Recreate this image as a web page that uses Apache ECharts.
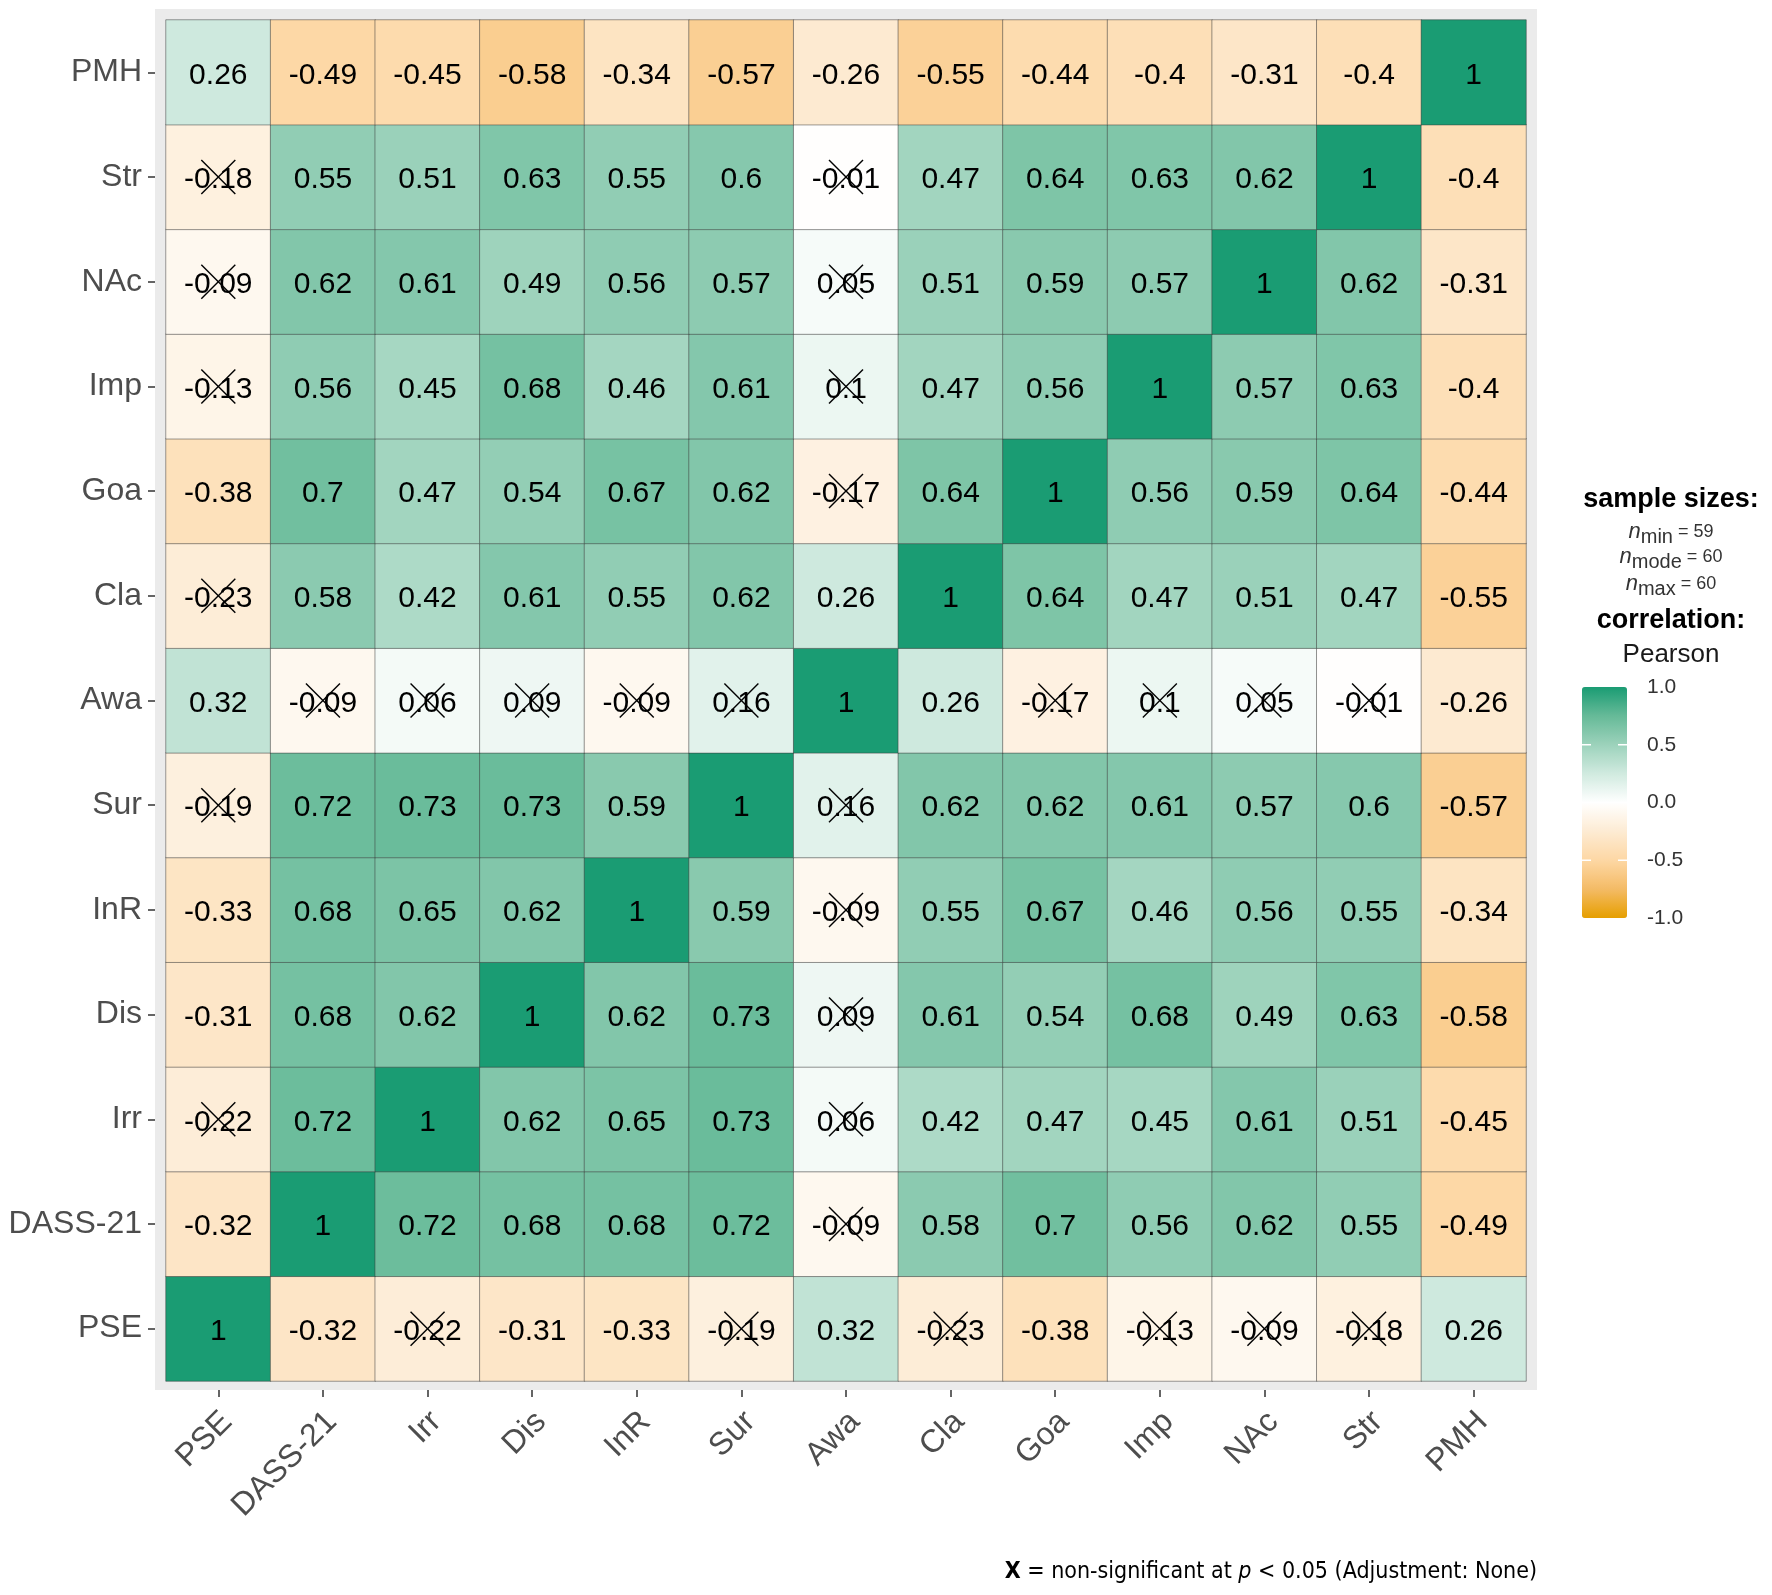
<!DOCTYPE html>
<html>
<head>
<meta charset="utf-8">
<script src="https://cdn.jsdelivr.net/npm/echarts@6/dist/echarts.min.js"></script>
<style>
  html, body { margin: 0; padding: 0; background: #fff; }
  #main { width: 1772px; height: 1595px; }
</style>
</head>
<body>
<div id="main"></div>
<script>
var vars = ['PSE', 'DASS-21', 'Irr', 'Dis', 'InR', 'Sur', 'Awa', 'Cla', 'Goa', 'Imp', 'NAc', 'Str', 'PMH'];

// one row per y variable, columns in the order of vars
var rowPSE = [1, -0.32, -0.22, -0.31, -0.33, -0.19, 0.32, -0.23, -0.38, -0.13, -0.09, -0.18, 0.26];
var rowDASS = [-0.32, 1, 0.72, 0.68, 0.68, 0.72, -0.09, 0.58, 0.7, 0.56, 0.62, 0.55, -0.49];
var rowIrr = [-0.22, 0.72, 1, 0.62, 0.65, 0.73, 0.06, 0.42, 0.47, 0.45, 0.61, 0.51, -0.45];
var rowDis = [-0.31, 0.68, 0.62, 1, 0.62, 0.73, 0.09, 0.61, 0.54, 0.68, 0.49, 0.63, -0.58];
var rowInR = [-0.33, 0.68, 0.65, 0.62, 1, 0.59, -0.09, 0.55, 0.67, 0.46, 0.56, 0.55, -0.34];
var rowSur = [-0.19, 0.72, 0.73, 0.73, 0.59, 1, 0.16, 0.62, 0.62, 0.61, 0.57, 0.6, -0.57];
var rowAwa = [0.32, -0.09, 0.06, 0.09, -0.09, 0.16, 1, 0.26, -0.17, 0.1, 0.05, -0.01, -0.26];
var rowCla = [-0.23, 0.58, 0.42, 0.61, 0.55, 0.62, 0.26, 1, 0.64, 0.47, 0.51, 0.47, -0.55];
var rowGoa = [-0.38, 0.7, 0.47, 0.54, 0.67, 0.62, -0.17, 0.64, 1, 0.56, 0.59, 0.64, -0.44];
var rowImp = [-0.13, 0.56, 0.45, 0.68, 0.46, 0.61, 0.1, 0.47, 0.56, 1, 0.57, 0.63, -0.4];
var rowNAc = [-0.09, 0.62, 0.61, 0.49, 0.56, 0.57, 0.05, 0.51, 0.59, 0.57, 1, 0.62, -0.31];
var rowStr = [-0.18, 0.55, 0.51, 0.63, 0.55, 0.6, -0.01, 0.47, 0.64, 0.63, 0.62, 1, -0.4];
var rowPMH = [0.26, -0.49, -0.45, -0.58, -0.34, -0.57, -0.26, -0.55, -0.44, -0.4, -0.31, -0.4, 1];
var corr = [rowPSE, rowDASS, rowIrr, rowDis, rowInR, rowSur, rowAwa, rowCla, rowGoa, rowImp, rowNAc, rowStr, rowPMH];

// pairs that are non-significant at p < 0.05 (crossed out)
var nonSig = [
    ['PSE', 'Irr'], ['PSE', 'Sur'], ['PSE', 'Cla'], ['PSE', 'Imp'], ['PSE', 'NAc'], ['PSE', 'Str'],
    ['Awa', 'DASS-21'], ['Awa', 'Irr'], ['Awa', 'Dis'], ['Awa', 'InR'], ['Awa', 'Sur'],
    ['Awa', 'Goa'], ['Awa', 'Imp'], ['Awa', 'NAc'], ['Awa', 'Str']
];

var legendTicks = [1.0, 0.5, 0.0, -0.5, -1.0];

var heatData = [];
corr.forEach(function (row, yi) {
    row.forEach(function (v, xi) {
        heatData.push([xi, yi, v]);
    });
});

var crossData = [];
nonSig.forEach(function (p) {
    var a = vars.indexOf(p[0]), b = vars.indexOf(p[1]);
    crossData.push([a, b]);
    crossData.push([b, a]);
});

var FONT = '"Liberation Sans", Arial, sans-serif';
var NARROW = '"Liberation Sans Narrow", "DejaVu Sans Condensed", sans-serif';
var barTop = 687, barH = 231, barLeft = 1582, barW = 45;

var graphics = [
    { type: 'rect', z: -10, silent: true, shape: { x: 155, y: 9, width: 1382, height: 1381 }, style: { fill: '#ebebeb' } },
    { type: 'text', style: { x: 1671, y: 500, text: 'sample sizes:', textAlign: 'center', textVerticalAlign: 'middle', font: 'bold 27px ' + FONT, fill: '#000' } },
    { type: 'text', style: { x: 1671, y: 621, text: 'correlation:', textAlign: 'center', textVerticalAlign: 'middle', font: 'bold 27px ' + FONT, fill: '#000' } },
    { type: 'text', style: { x: 1671, y: 655, text: 'Pearson', textAlign: 'center', textVerticalAlign: 'middle', font: '26px ' + FONT, fill: '#1a1a1a' } }
];

var nLines = [['min', '59', 532], ['mode', '60', 557], ['max', '60', 584]];
nLines.forEach(function (n) {
    graphics.push({
        type: 'text',
        style: {
            x: 1671, y: n[2], textAlign: 'center', textVerticalAlign: 'middle',
            text: '{n|n}{s|' + n[0] + '}{e| = ' + n[1] + '}',
            rich: {
                n: { font: 'italic 22px ' + FONT, fill: '#333' },
                s: { font: '20px ' + FONT, fill: '#333', padding: [10, 0, 0, 0] },
                e: { font: '18px ' + FONT, fill: '#333' }
            }
        }
    });
});

legendTicks.forEach(function (t) {
    var y = barTop + (1 - t) / 2 * barH;
    graphics.push({ type: 'text', style: { x: 1647, y: y, text: t.toFixed(1), textAlign: 'left', textVerticalAlign: 'middle', font: '21px ' + FONT, fill: '#333' } });
    if (Math.abs(t) === 0.5) {
        graphics.push({ type: 'line', z: 10, shape: { x1: barLeft, y1: y, x2: barLeft + 9, y2: y }, style: { stroke: '#fff', lineWidth: 1.5 } });
        graphics.push({ type: 'line', z: 10, shape: { x1: barLeft + barW - 9, y1: y, x2: barLeft + barW, y2: y }, style: { stroke: '#fff', lineWidth: 1.5 } });
    }
});

graphics.push({
    type: 'text',
    style: {
        x: 1537, y: 1572, textAlign: 'right', textVerticalAlign: 'middle',
        text: '{b|X} = non-significant at {i|p} < 0.05 (Adjustment: None)',
        font: '23px ' + NARROW,
        fill: '#000',
        rich: {
            b: { font: 'bold 23px ' + NARROW, fill: '#000' },
            i: { font: 'italic 23px ' + NARROW, fill: '#000' }
        }
    }
});

var myChart = echarts.init(document.getElementById('main'));
var option = {
    backgroundColor: '#fff',
    animation: false,
    grid: { left: 166, right: 246, top: 20, bottom: 214 },
    xAxis: {
        type: 'category',
        data: vars,
        offset: 9,
        axisLine: { show: false },
        axisTick: { show: true, alignWithLabel: true, length: 7, lineStyle: { color: '#333', width: 1.5 } },
        axisLabel: {
            rotate: 45, margin: 18,
            formatter: function (v) { return '{a|' + v + '}'; },
            rich: { a: { fontSize: 32, fontFamily: FONT, color: '#4d4d4d', padding: [25, 0, 0, 0] } }
        },
        splitLine: { show: false }
    },
    yAxis: {
        type: 'category',
        data: vars,
        offset: 11,
        axisLine: { show: false },
        axisTick: { show: true, alignWithLabel: true, length: 7, lineStyle: { color: '#333', width: 1.5 } },
        axisLabel: { margin: 13, fontSize: 32, fontFamily: FONT, color: '#4d4d4d', padding: [6, 0, 0, 0] },
        splitLine: { show: false }
    },
    visualMap: {
        type: 'continuous',
        min: -1,
        max: 1,
        seriesIndex: 0,
        calculable: false,
        realtime: false,
        left: barLeft,
        top: barTop,
        itemWidth: barW,
        itemHeight: barH,
        padding: 0,
        text: null,
        showLabel: false,
        inRange: {
            color: ['#E69F00', '#F4BB66', '#FDD7A4', '#FDEBD3', '#FFFFFF', '#D0EADF', '#9CD2BB', '#66BA98', '#1A9C73']
        }
    },
    graphic: graphics,
    series: [
        {
            type: 'heatmap',
            data: heatData,
            itemStyle: { borderColor: 'rgba(60,60,60,0.5)', borderWidth: 1 },
            label: {
                show: true,
                color: '#000',
                fontSize: 30,
                fontFamily: FONT,
                offset: [0, 3],
                formatter: function (p) { return String(p.value[2]); }
            },
            emphasis: { disabled: true }
        },
        {
            type: 'custom',
            data: crossData,
            z: 5,
            silent: true,
            renderItem: function (params, api) {
                var c = api.coord([api.value(0), api.value(1)]);
                var h = 17;
                return {
                    type: 'group',
                    children: [
                        { type: 'line', shape: { x1: c[0] - h, y1: c[1] - h, x2: c[0] + h, y2: c[1] + h }, style: { stroke: '#000', lineWidth: 1.4 } },
                        { type: 'line', shape: { x1: c[0] - h, y1: c[1] + h, x2: c[0] + h, y2: c[1] - h }, style: { stroke: '#000', lineWidth: 1.4 } }
                    ]
                };
            }
        }
    ]
};
myChart.setOption(option);
</script>
</body>
</html>
